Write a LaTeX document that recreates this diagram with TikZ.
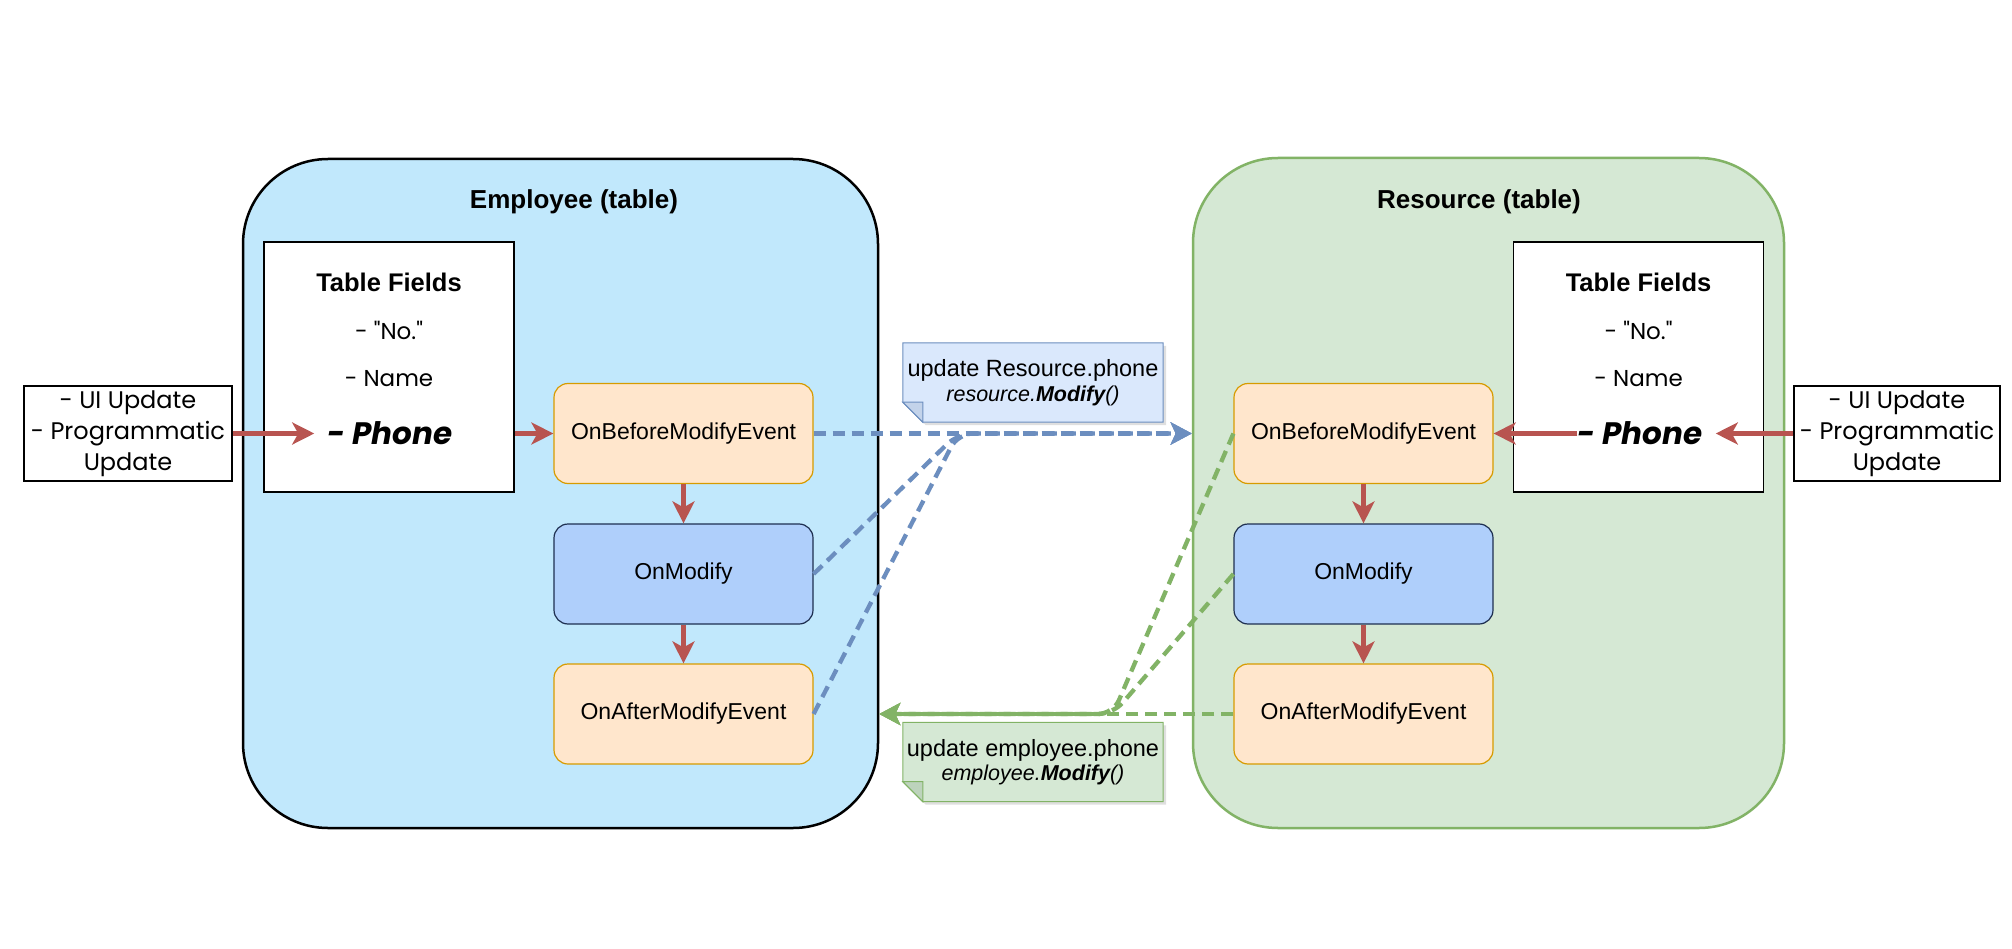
\documentclass[tikz,border=0pt]{standalone}
\usepackage{fontspec}
\setmainfont{Liberation Sans}
\newfontfamily\comicfont{Poppins}
\usetikzlibrary{arrows.meta,shadows}
\definecolor{empfill}{HTML}{C1E8FC}
\definecolor{resfill}{HTML}{D5E8D4}
\definecolor{resline}{HTML}{82B366}
\definecolor{evfill}{HTML}{FFE6CC}
\definecolor{evline}{HTML}{D79B00}
\definecolor{modfill}{HTML}{AFCFFB}
\definecolor{modline}{HTML}{1E2F50}
\definecolor{redln}{HTML}{B85450}
\definecolor{blueln}{HTML}{6C8EBF}
\definecolor{bluenote}{HTML}{DAE8FC}
\definecolor{bluefold}{HTML}{C3D3EA}
\definecolor{greenfold}{HTML}{BDD3BC}
\begin{document}
\begin{tikzpicture}[x=1pt,y=-1pt,
  container/.style={draw, rounded corners=85pt, line width=2.5pt, inner sep=0pt},
  titletext/.style={font=\fontsize{26}{30}\selectfont\bfseries, inner sep=0pt},
  fieldbox/.style={draw=black, fill=white, line width=1.5pt, minimum width=250pt, minimum height=250pt, inner sep=0pt},
  fieldtitle/.style={font=\fontsize{25.5}{30}\selectfont\bfseries, inner sep=0pt},
  fieldtext/.style={font=\comicfont\fontsize{23}{28}\selectfont, inner sep=0pt},
  phonetext/.style={font=\comicfont\fontsize{31}{36}\selectfont\bfseries\itshape, inner ysep=0pt, inner xsep=13pt},
  uibox/.style={draw=black, fill=white, line width=1.3pt, minimum height=95pt, inner sep=0pt, align=center, font=\comicfont\fontsize{24}{31}\selectfont},
  evbox/.style={draw=evline, fill=evfill, rounded corners=14pt, line width=1.2pt, minimum width=259pt, minimum height=100pt, inner sep=0pt, font=\fontsize{23}{28}\selectfont},
  modbox/.style={evbox, draw=modline, fill=modfill},
  notetext/.style={minimum width=260pt, minimum height=79pt, inner sep=0pt, align=center},
  redarrow/.style={draw=redln, line width=4.5pt, -{Stealth[length=22pt,width=22pt,inset=6pt]}},
  bluedash/.style={draw=blueln, line width=4.3pt, dash pattern=on 12pt off 7pt, rounded corners=15pt, -{Stealth[length=21pt,width=22pt,inset=5pt]}},
  greendash/.style={draw=resline, line width=4.3pt, dash pattern=on 12pt off 7pt, rounded corners=15pt, -{Stealth[length=21pt,width=22pt,inset=5pt]}},
  noteshape/.style={line width=1pt, drop shadow={shadow xshift=3pt, shadow yshift=-3pt, opacity=0.25}}
]
\fill[white] (0,0) rectangle (2012,949);
\useasboundingbox (0,0) rectangle (2012,949);

% containers
\node[container, draw=black, fill=empfill, minimum width=635pt, minimum height=669pt] (empC) at (560.5,493.5) {};
\node[container, draw=resline, fill=resfill, minimum width=591pt, minimum height=670pt] (resC) at (1488.5,493) {};
\node[titletext] (empT) at (574,202) {Employee (table)};
\node[titletext] (resT) at (1479,202) {Resource (table)};

% table field boxes
\node[fieldbox] (tfL) at (389,367) {};
\node[fieldtitle] (tfTL) at (389,282) {Table Fields};
\node[fieldtext] (noL) at (389,330) {- "No."};
\node[fieldtext] (nameL) at (389,379) {- Name};
\node[phonetext] (phL) at (390,433.5) {- Phone};

\node[fieldbox] (tfR) at (1638.5,367) {};
\node[fieldtitle] (tfTR) at (1638.5,282) {Table Fields};
\node[fieldtext] (noR) at (1638.5,330) {- "No."};
\node[fieldtext] (nameR) at (1638.5,379) {- Name};
\node[phonetext] (phR) at (1640,433.5) {- Phone};

% update sources
\node[uibox, minimum width=208pt] (uiL) at (128,433.5) {- UI Update\\- Programmatic\\Update};
\node[uibox, minimum width=206pt] (uiR) at (1897,433.5) {- UI Update\\- Programmatic\\Update};

% events
\node[evbox] (obL) at (683.5,433.5) {OnBeforeModifyEvent};
\node[modbox] (omL) at (683.5,574) {OnModify};
\node[evbox] (oaL) at (683.5,714) {OnAfterModifyEvent};
\node[evbox] (obR) at (1363.5,433.5) {OnBeforeModifyEvent};
\node[modbox] (omR) at (1363.5,574) {OnModify};
\node[evbox] (oaR) at (1363.5,714) {OnAfterModifyEvent};

% notes (shape first, text on top)
\node[notetext] (nB) at (1033,382.5) {};
\node[notetext] (nG) at (1033,762) {};
\path[noteshape, draw=blueln, fill=bluenote] (nB.north west) -- (nB.north east) -- (nB.south east) -- ([xshift=20pt]nB.south west) -- ([yshift=20pt]nB.south west) -- cycle;
\filldraw[draw=blueln, fill=bluefold, line width=1pt] ([yshift=20pt]nB.south west) -- ([xshift=20pt,yshift=20pt]nB.south west) -- ([xshift=20pt]nB.south west) -- cycle;
\path[noteshape, draw=resline, fill=resfill] (nG.north west) -- (nG.north east) -- (nG.south east) -- ([xshift=20pt]nG.south west) -- ([yshift=20pt]nG.south west) -- cycle;
\filldraw[draw=resline, fill=greenfold, line width=1pt] ([yshift=20pt]nG.south west) -- ([xshift=20pt,yshift=20pt]nG.south west) -- ([xshift=20pt]nG.south west) -- cycle;
\node[notetext] (nBt) at (nB) {{\fontsize{23.5}{28}\selectfont update Resource.phone}\\[3pt]{\fontsize{21.5}{26}\selectfont\itshape resource.\textbf{Modify}()}};
\node[notetext] (nGt) at (nG) {{\fontsize{23.5}{28}\selectfont update employee.phone}\\[3pt]{\fontsize{21.5}{26}\selectfont\itshape employee.\textbf{Modify}()}};

% red flow arrows
\draw[redarrow] (uiL.east) -- (phL.west);
\draw[redarrow] (tfL.east |- phL) -- (obL.west);
\draw[redarrow] (obL.south) -- (omL.north);
\draw[redarrow] (omL.south) -- (oaL.north);
\draw[redarrow] (uiR.west) -- (phR.east);
\draw[redarrow] ([xshift=13pt]phR.west) -- (obR.east);
\draw[redarrow] (obR.south) -- (omR.north);
\draw[redarrow] (omR.south) -- (oaR.north);

% blue sync connectors
\coordinate (bj) at (958,433.5);
\coordinate (gj) at (1113,714);
\draw[bluedash] (obL.east) -- (resC.west |- obL.east);
\draw[bluedash] (omL.east) -- (bj) -- (resC.west |- obL.east);
\draw[bluedash] (oaL.east) -- (bj) -- (resC.west |- obL.east);

% green sync connectors
\draw[greendash] (oaR.west) -- (empC.east |- oaR.west);
\draw[greendash] (obR.west) -- (gj) -- (empC.east |- oaR.west);
\draw[greendash] (omR.west) -- (gj) -- (empC.east |- oaR.west);
\end{tikzpicture}
\end{document}
